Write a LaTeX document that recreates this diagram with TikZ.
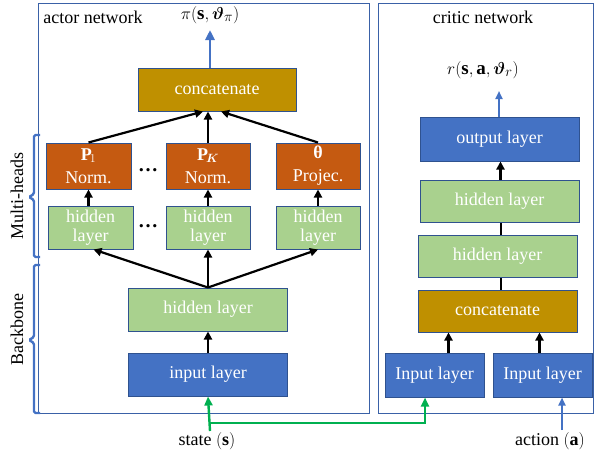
\documentclass[tikz,border=0pt]{standalone}
\usepackage{amsmath,bm}
\usepackage{fontspec}
\setmainfont{Liberation Serif}
\usetikzlibrary{arrows.meta}
\definecolor{bblue}{HTML}{4472C4}
\definecolor{bgreen}{HTML}{A9D18E}
\definecolor{borange}{HTML}{C55A11}
\definecolor{bgold}{HTML}{BF9000}
\definecolor{bedge}{HTML}{2F528F}
\definecolor{sgreen}{HTML}{00B050}
\tikzset{
  box/.style={draw=bedge, line width=1pt, text=white, inner sep=0pt, align=center,
    font=\fontsize{18}{21}\selectfont},
  bluebox/.style={box, fill=bblue},
  greenbox/.style={box, fill=bgreen},
  orangebox/.style={box, fill=borange},
  goldbox/.style={box, fill=bgold},
  frame/.style={draw=bblue!85!black, line width=0.9pt},
  arr/.style={line width=2.2pt, -{Triangle[length=8pt,width=8pt]}},
  blk/.style={line width=2.2pt},
  barr/.style={draw=bblue, line width=2.6pt, -{Triangle[length=10pt,width=9pt]}},
  garr/.style={draw=sgreen, line width=2.4pt, -{Triangle[length=9pt,width=8pt]}},
  lbl/.style={font=\fontsize{18}{21}\selectfont, inner sep=0pt},
  brk/.style={draw=bblue, line width=2.4pt, rounded corners=1.5pt},
}
\begin{document}
\begin{tikzpicture}[x=1pt,y=-1pt]
\useasboundingbox (0,0) rectangle (595,455);
% frames
\draw[frame] (38,3) rectangle (369,413);
\draw[frame] (378,3) rectangle (593,413);
\node[lbl] (actorlbl) at (93,17) {actor network};
\node[lbl] (criticlbl) at (483,17) {critic network};
% actor
\node[bluebox, minimum width=159pt, minimum height=43pt] (ain) at (208,374.5) {input layer};
\node[greenbox, minimum width=159pt, minimum height=43pt] (ahid) at (208,309.5) {hidden layer};
\node[greenbox, minimum width=85pt, minimum height=43pt] (h1) at (90.5,227.5) {hidden\\[-2pt]layer};
\node[greenbox, minimum width=84pt, minimum height=43pt] (hk) at (208,227.5) {hidden\\[-2pt]layer};
\node[greenbox, minimum width=84pt, minimum height=43pt] (ht) at (318,227.5) {hidden\\[-2pt]layer};
\node[orangebox, minimum width=85pt, minimum height=46pt] (p1) at (88.5,166) {$\mathbf{P}_{\!1}$\\[2pt]Norm.};
\node[orangebox, minimum width=84pt, minimum height=46pt] (pk) at (208,166) {$\mathbf{P}_{\!\bm{K}}$\\[2pt]Norm.};
\node[orangebox, minimum width=84pt, minimum height=46pt] (pt) at (318,166) {\textbf{θ}\\[2pt]Projec.};
\node[goldbox, minimum width=158pt, minimum height=43pt] (acat) at (217,89.5) {concatenate};
\node[lbl] (dots1) at (148,170) {\bfseries\fontsize{20}{20}\selectfont …};
\node[lbl] (dots2) at (148,226) {\bfseries\fontsize{20}{20}\selectfont …};
\node[lbl, font=\fontsize{19}{21}\selectfont] (pilbl) at (210,15) {$\pi(\mathbf{s},\bm{\vartheta}_{\pi})$};
\draw[arr] (ain.north) -- (ahid.south);
\draw[arr] (ahid.north) -- ([xshift=3pt]h1.south);
\draw[arr] (ahid.north) -- (hk.south);
\draw[arr] (ahid.north) -- (ht.south);
\draw[arr] (h1.north -| p1) -- (p1.south);
\draw[arr] (hk.north) -- (pk.south);
\draw[arr] (ht.north) -- (pt.south);
\draw[arr] (p1.north) -- ([xshift=-14pt]acat.south);
\draw[arr] (pk.north) -- (pk.north |- acat.south);
\draw[arr] (pt.north) -- ([xshift=4pt]acat.south);
\coordinate (piend) at (210,30);
\draw[barr] (acat.north -| piend) -- (piend);
% braces
\draw[brk] (40,135) -- (34,135) -- (34,194) -- (29,197) -- (34,200) -- (34,257) -- (40,257);
\draw[brk] (40,265) -- (34,265) -- (34,337) -- (29,340) -- (34,343) -- (34,413) -- (40,413);
\node[lbl, rotate=90] (mh) at (17,196) {Multi-heads};
\node[lbl, rotate=90] (bb) at (17,330) {Backbone};
% critic
\node[bluebox, minimum width=99pt, minimum height=44pt] (cin1) at (434.5,375) {Input layer};
\node[bluebox, minimum width=99pt, minimum height=44pt] (cin2) at (542.5,375) {Input layer};
\node[goldbox, minimum width=159pt, minimum height=42pt] (ccat) at (497.5,311) {concatenate};
\node[greenbox, minimum width=159pt, minimum height=42pt] (ch2) at (497.5,256) {hidden layer};
\node[greenbox, minimum width=159pt, minimum height=42pt] (ch1) at (499.5,201) {hidden layer};
\node[bluebox, minimum width=159pt, minimum height=44pt] (cout) at (499.5,139) {output layer};
\node[lbl, font=\fontsize{19}{21}\selectfont] (rlbl) at (483,70) {$r(\mathbf{s},\mathbf{a},\bm{\vartheta}_{r})$};
\coordinate (rend) at (499,91);
\draw[draw=bblue, line width=2pt, -{Triangle[length=8pt,width=7pt]}] (cout.north -| rend) -- (rend);
\draw[arr] ([xshift=1pt]ch1.north) -- ([xshift=1pt]ch1.north |- cout.south);
\draw[blk] (ch2.north -| 501,0) -- (ch1.south -| 501,0);
\draw[blk] (ccat.north -| 501,0) -- (ch2.south -| 501,0);
\draw[arr] ([xshift=14pt]cin1.north) -- ([xshift=14pt]cin1.north |- ccat.south);
\draw[arr] ([xshift=-3pt]cin2.north) -- ([xshift=-3pt]cin2.north |- ccat.south);
% inputs
\node[lbl] (statelbl) at (207,441) {state $(\mathbf{s})$};
\node[lbl] (actionlbl) at (550,441) {action $(\mathbf{a})$};
\coordinate (sbot) at (210,431);
\coordinate (sjoin) at (210,423);
\coordinate (sright) at (425,423);
\draw[garr] (sbot) -- (ain.south);
\draw[garr] (sjoin) -- (sright) -- (sright |- cin1.south);
\coordinate (abot) at (562,430);
\draw[draw=bblue, line width=2.2pt, -{Triangle[length=8pt,width=7pt]}] (abot) -- (abot |- cin2.south);
\end{tikzpicture}
\end{document}
